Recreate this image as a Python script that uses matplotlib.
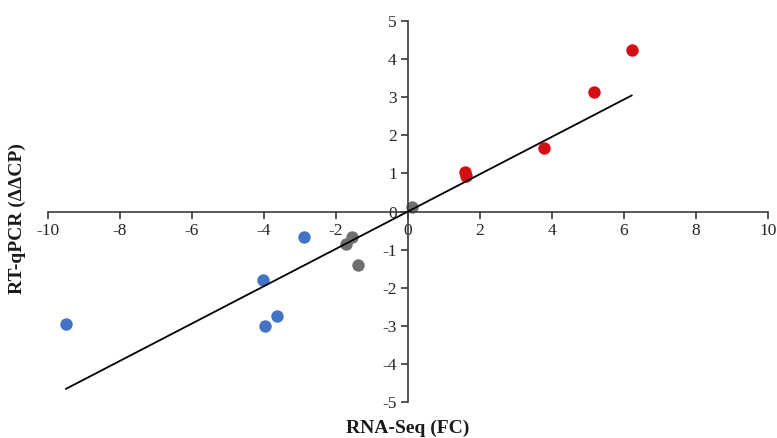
import matplotlib
matplotlib.use("Agg")
import matplotlib.pyplot as plt
import numpy as np

# RNA-Seq fold change (x) vs RT-qPCR ddCP (y), by group
down_x = [-9.5, -2.89, -4.03, -3.97, -3.64]
down_y = [-2.95, -0.68, -1.79, -3.00, -2.74]
mid_x = [-1.56, -1.72, -1.39, 0.11]
mid_y = [-0.66, -0.85, -1.40, 0.13]
up_x = [6.22, 5.17, 3.78, 1.58, 1.61]
up_y = [4.24, 3.13, 1.68, 1.03, 0.93]

xticks = [-10, -8, -6, -4, -2, 0, 2, 4, 6, 8, 10]
yticks = [-5, -4, -3, -2, -1, 0, 1, 2, 3, 4, 5]

plt.rcParams['font.family'] = ['Liberation Serif', 'DejaVu Serif']
plt.rcParams['axes.unicode_minus'] = False

fig = plt.figure(figsize=(7.77, 4.38), dpi=100)
ax = fig.add_axes([0.0618, 0.082, 0.9262, 0.870])

ax.scatter(down_x, down_y, s=80, color='#4472C4', zorder=2, linewidths=0)
ax.scatter(mid_x, mid_y, s=80, color='#6F6F6F', zorder=2, linewidths=0)
ax.scatter(up_x, up_y, s=80, color='#D40F14', zorder=2, linewidths=0)

# linear trendline forced through origin (like Excel "set intercept = 0")
allx = np.array(down_x + mid_x + up_x)
ally = np.array(down_y + mid_y + up_y)
slope = np.sum(allx * ally) / np.sum(allx ** 2)
lx = np.array([allx.min(), allx.max()])
ax.plot(lx, slope * lx, color='black', lw=1.3, zorder=3)

ax.set_xlim(-10, 10)
ax.set_ylim(-5, 5)
ax.set_xticks(xticks)
ax.set_yticks(yticks)

for side in ['top', 'right']:
    ax.spines[side].set_visible(False)
ax.spines['left'].set_position(('data', 0))
ax.spines['bottom'].set_position(('data', 0))
for side in ['left', 'bottom']:
    ax.spines[side].set_color('#3a3a3a')
    ax.spines[side].set_linewidth(1.2)
ax.tick_params(direction='out', length=5, width=1.2, color='#3a3a3a',
               labelsize=12.5, labelcolor='#262626', pad=3)

fig.text(0.525, 0.022, 'RNA-Seq (FC)', ha='center', va='center',
         fontsize=14, fontweight='bold', color='#1a1a1a')
fig.text(0.022, 0.5, 'RT-qPCR (ΔΔCP)', ha='center', va='center',
         rotation=90, fontsize=14, fontweight='bold', color='#1a1a1a')

plt.savefig('out.png', dpi=100)
